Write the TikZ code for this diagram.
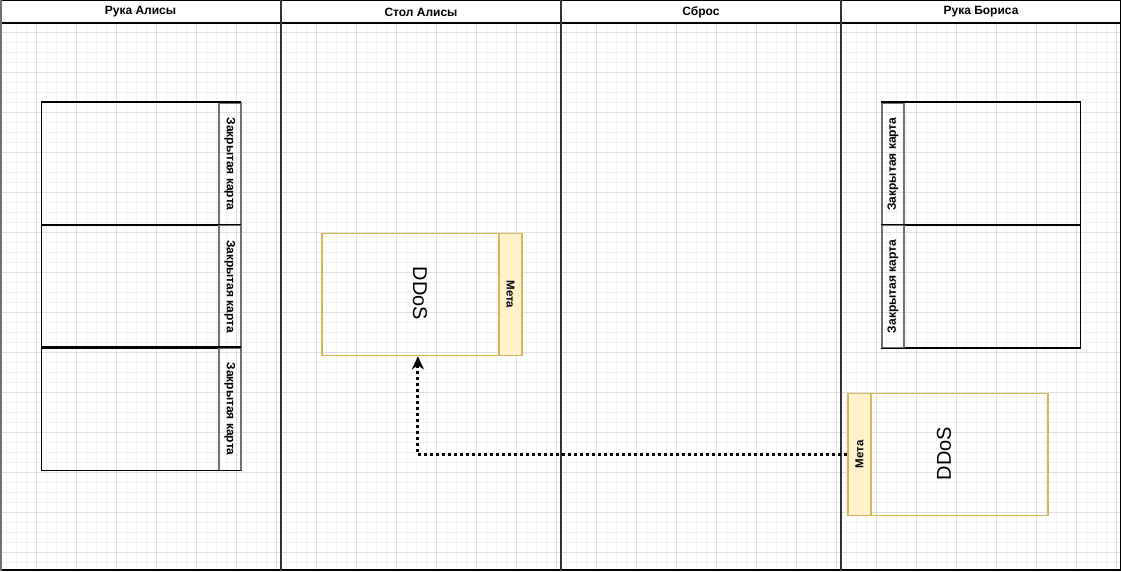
\documentclass[tikz,border=0pt]{standalone}
\usepackage{fontspec}
\setmainfont{Liberation Sans}
\usetikzlibrary{arrows.meta}
\definecolor{gridminor}{HTML}{F2F2F2}
\definecolor{gridmajor}{HTML}{E0E0E0}
\definecolor{ybord}{HTML}{D6B656}
\definecolor{yfill}{HTML}{FFF2CC}
\definecolor{lanecol}{HTML}{333333}
\definecolor{stripcol}{HTML}{707070}
\tikzset{
  header/.style={font=\bfseries\fontsize{12}{14}\selectfont, inner sep=0pt},
  cardbox/.style={draw=black, line width=1.3pt, minimum width=199pt, minimum height=122.5pt, anchor=north west, inner sep=0pt},
  stripbox/.style={draw=stripcol, line width=1.6pt, minimum width=22pt, minimum height=122.5pt, anchor=north west, inner sep=0pt},
  striptext/.style={font=\bfseries\fontsize{12}{14}\selectfont, inner sep=0pt},
  ddosbox/.style={draw=ybord, line width=1.8pt, minimum width=200pt, minimum height=122pt, anchor=north west, inner sep=0pt},
  metabox/.style={draw=ybord, fill=yfill, line width=1.8pt, minimum width=23pt, minimum height=122pt, anchor=north west, inner sep=0pt},
  metatext/.style={font=\bfseries\fontsize{11.5}{13}\selectfont, inner sep=0pt},
  ddostext/.style={font=\fontsize{20}{24}\selectfont, inner sep=0pt},
  lane/.style={draw=lanecol, line width=2pt},
  edgeline/.style={draw=black, line width=1.3pt},
  flow/.style={line width=3pt, dash pattern=on 3pt off 3pt, -{Stealth[length=13pt,width=12pt,inset=4pt]}}
}
\begin{document}
\begin{tikzpicture}[x=1pt,y=-1pt]
\useasboundingbox (0,0) rectangle (1121,571);
\fill[white] (0,0) rectangle (1121,571);
\begin{scope}
\clip (0,23) rectangle (1121,571);
\foreach \i in {0,...,112} \draw[gridminor, line width=0.7pt] ({6.7+10*\i},0) -- ++(0,571);
\foreach \i in {0,...,57} \draw[gridminor, line width=0.7pt] (0,{2+10*\i}) -- ++(1121,0);
\foreach \i in {0,...,28} \draw[gridmajor, line width=0.9pt] ({36.7+40*\i},0) -- ++(0,571);
\foreach \i in {0,...,15} \draw[gridmajor, line width=0.9pt] (0,{-8+40*\i}) -- ++(1121,0);
\end{scope}

% lanes
\draw[black, line width=1.2pt] (0,0.6) -- (1121,0.6);
\draw[black, line width=1.2pt] (0,23) -- (1121,23);
\draw[black, line width=2.2pt] (0,570) -- (1121,570);
\draw[stripcol, line width=1.8pt] (0.9,0) -- (0.9,571);
\draw[black, line width=1.2pt] (1120.4,0) -- (1120.4,571);
\draw[lane] (281,0) -- (281,571);
\draw[lane] (561,0) -- (561,571);
\draw[lane] (841,0) -- (841,571);

\node[header] (h1) at (140.5,12) {Рука Алисы};
\node[header] (h2) at (421,12) {Стол Алисы};
\node[header] (h3) at (701,12) {Сброс};
\node[header] (h4) at (981,12) {Рука Бориса};

% Alice hand
\foreach \n/\y in {1/102,2/224.5,3/347} {
  \node[cardbox] (a\n) at (41,\y) {};
  \node[stripbox] (as\n) at (218,\y) {};
  \draw[edgeline] (a\n.north west) -- (a\n.north east);
  \draw[edgeline] (a\n.south west) -- (a\n.south east);
  \node[striptext, rotate=-90] (at\n) at (as\n.center) {Закрытая карта};
}

% Bob hand
\foreach \n/\y in {1/102,2/224.5} {
  \node[cardbox] (b\n) at (881,\y) {};
  \node[stripbox] (bs\n) at (881,\y) {};
  \draw[edgeline] (b\n.north west) -- (b\n.north east);
  \draw[edgeline] (b\n.south west) -- (b\n.south east);
  \node[striptext, rotate=90] (bt\n) at (bs\n.center) {Закрытая карта};
}

% Alice table DDoS card
\node[ddosbox] (ad) at (321,232.5) {};
\node[metabox] (am) at (498,232.5) {};
\node[metatext, rotate=-90] (amt) at (am.center) {Мета};
\node[ddostext, rotate=-90] (adt) at (420,293.5) {DDoS};

% Bob DDoS card
\node[ddosbox] (bd) at (847,392.5) {};
\node[metabox] (bm) at (847,392.5) {};
\node[metatext, rotate=90] (bmt) at (bm.center) {Мета};
\node[ddostext, rotate=90] (bdt) at (944,453.5) {DDoS};

% connector
\coordinate (tgt) at ([xshift=-4pt]ad.south);
\draw[flow] (bd.west) -| (tgt);
\end{tikzpicture}
\end{document}
